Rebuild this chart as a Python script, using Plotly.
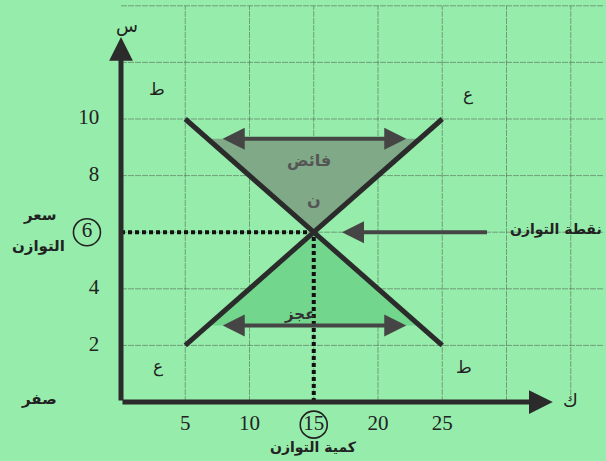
import numpy as np
import plotly.graph_objects as go

# demand (ط) and supply (ع) lines
qty = [5, 25]
demand_price = [10, 2]
supply_price = [2, 10]
eq_qty = 15
eq_price = 6
surplus_price = 9.3
shortage_price = 2.7

grid_x = [5, 10, 15, 20, 25, 30, 35]
grid_y = [2, 4, 6, 8, 10, 12, 14]
x_ticks = [5, 10, 20, 25]
y_ticks = [2, 4, 8, 10]

BG = "#96ecab"
INK = "#2b2b2b"
ARROW = "#454545"
GRID = "rgba(80,95,80,0.55)"
AR_FONT = "DejaVu Sans"
NUM_FONT = "Liberation Serif"


def q_on(prices, p):
    # quantity on a line for given price
    if prices[0] < prices[1]:
        return float(np.interp(p, prices, qty))
    return float(np.interp(p, prices[::-1], qty[::-1]))


fig = go.Figure()

# grid
for gx in grid_x:
    fig.add_trace(go.Scatter(x=[gx, gx], y=[0, 14], mode="lines",
                             line=dict(color=GRID, width=1, dash="6px,1px"), hoverinfo="skip"))
for gy in grid_y:
    fig.add_trace(go.Scatter(x=[0, 37.6], y=[gy, gy], mode="lines",
                             line=dict(color=GRID, width=1, dash="6px,1px"), hoverinfo="skip"))

# surplus triangle
sx = [q_on(demand_price, surplus_price), q_on(supply_price, surplus_price), eq_qty]
fig.add_trace(go.Scatter(x=sx + [sx[0]], y=[surplus_price, surplus_price, eq_price, surplus_price],
                         fill="toself", fillcolor="#7fa987", mode="lines",
                         line=dict(width=0), hoverinfo="skip"))
# shortage triangle
hx = [q_on(supply_price, shortage_price), q_on(demand_price, shortage_price), eq_qty]
fig.add_trace(go.Scatter(x=hx + [hx[0]], y=[shortage_price, shortage_price, eq_price, shortage_price],
                         fill="toself", fillcolor="#72d68c", mode="lines",
                         line=dict(width=0), hoverinfo="skip"))

# dotted guides
fig.add_trace(go.Scatter(x=[0, eq_qty], y=[eq_price, eq_price], mode="lines",
                         line=dict(color="#111", width=4, dash="4px,3px"), hoverinfo="skip"))
fig.add_trace(go.Scatter(x=[eq_qty, eq_qty], y=[0, eq_price], mode="lines",
                         line=dict(color="#111", width=4, dash="4px,3px"), hoverinfo="skip"))

# demand and supply
fig.add_trace(go.Scatter(x=qty, y=demand_price, mode="lines",
                         line=dict(color=INK, width=5), hoverinfo="skip"))
fig.add_trace(go.Scatter(x=qty, y=supply_price, mode="lines",
                         line=dict(color=INK, width=5), hoverinfo="skip"))

# tick labels
fig.add_trace(go.Scatter(x=[-1.7] * len(y_ticks), y=y_ticks, mode="text",
                         text=[str(v) for v in y_ticks], textposition="middle left",
                         textfont=dict(family=NUM_FONT, size=21, color="#222"), hoverinfo="skip"))
fig.add_trace(go.Scatter(x=x_ticks, y=[-0.8] * len(x_ticks), mode="text",
                         text=[str(v) for v in x_ticks], textposition="middle center",
                         textfont=dict(family=NUM_FONT, size=21, color="#222"), hoverinfo="skip"))
# circled equilibrium values
fig.add_trace(go.Scatter(x=[-2.65, eq_qty], y=[eq_price, -0.8], mode="markers+text",
                         text=[str(eq_price), str(eq_qty)], textposition="middle center",
                         marker=dict(symbol="circle-open", size=27, color="#222",
                                     line=dict(width=1.6, color="#222")),
                         textfont=dict(family=NUM_FONT, size=21, color="#222"), hoverinfo="skip"))

fig.update_layout(
    width=606, height=461,
    margin=dict(l=0, r=0, t=0, b=0),
    paper_bgcolor=BG, plot_bgcolor=BG,
    showlegend=False,
    xaxis=dict(range=[-121 / 12.85, 485 / 12.85], visible=False, fixedrange=True),
    yaxis=dict(range=[-59 / 28.3, 402 / 28.3], visible=False, fixedrange=True),
)

def arrow(x, y, ax, ay, width=4, size=1.0, side="end", color=ARROW, head=2):
    fig.add_annotation(x=x, y=y, ax=ax, ay=ay, xref="x", yref="y", axref="x", ayref="y",
                       showarrow=True, arrowhead=head, arrowsize=size, arrowwidth=width,
                       arrowcolor=color, arrowside=side, text="", startarrowhead=head,
                       startarrowsize=size)

# axes
arrow(0, 12.9, 0, 0, width=5, size=0.95, color=INK)
arrow(33.6, 0, 0, 0, width=5, size=0.95, color=INK)
# surplus / shortage arrows
arrow(22.2, surplus_price, 7.8, surplus_price, side="end+start", size=1.1)
arrow(22.2, shortage_price, 7.8, shortage_price, side="end+start", size=1.1)
# equilibrium pointer
arrow(17.2, eq_price, 28.6, eq_price, size=1.1)

def label(x, y, t, size=17, color="#222", family=AR_FONT, xanchor="center"):
    fig.add_annotation(x=x, y=y, xref="x", yref="y", text=t, showarrow=False,
                       xanchor=xanchor, font=dict(family=family, size=size, color=color))

label(0.5, 13.3, "س", size=18)
label(35.0, 0.05, "ك", size=18)
label(2.8, 11.05, "ط")
label(27, 10.85, "ع")
label(2.9, 1.25, "ع")
label(26.7, 1.25, "ط")
label(14.6, 8.55, "<b>فائض</b>", size=16, color="#555")
label(15.0, 7.15, "<b>ن</b>", size=16, color="#555")
label(13.9, 3.1, "<b>عجز</b>", size=15, color="#333")
label(37.6, 6.1, "<b>نقطة التوازن</b>", size=14, xanchor="right")
label(-6.3, 6.6, "<b>سعر</b>", size=15)
label(-6.4, 5.5, "<b>التوازن</b>", size=15)
label(-6.4, 0.1, "<b>صفر</b>", size=15)
label(15, -1.6, "<b>كمية التوازن</b>", size=14)

fig.write_html("out.html", config={"displayModeBar": False},
               post_script="document.body.style.margin='0';document.body.style.overflow='hidden';")
